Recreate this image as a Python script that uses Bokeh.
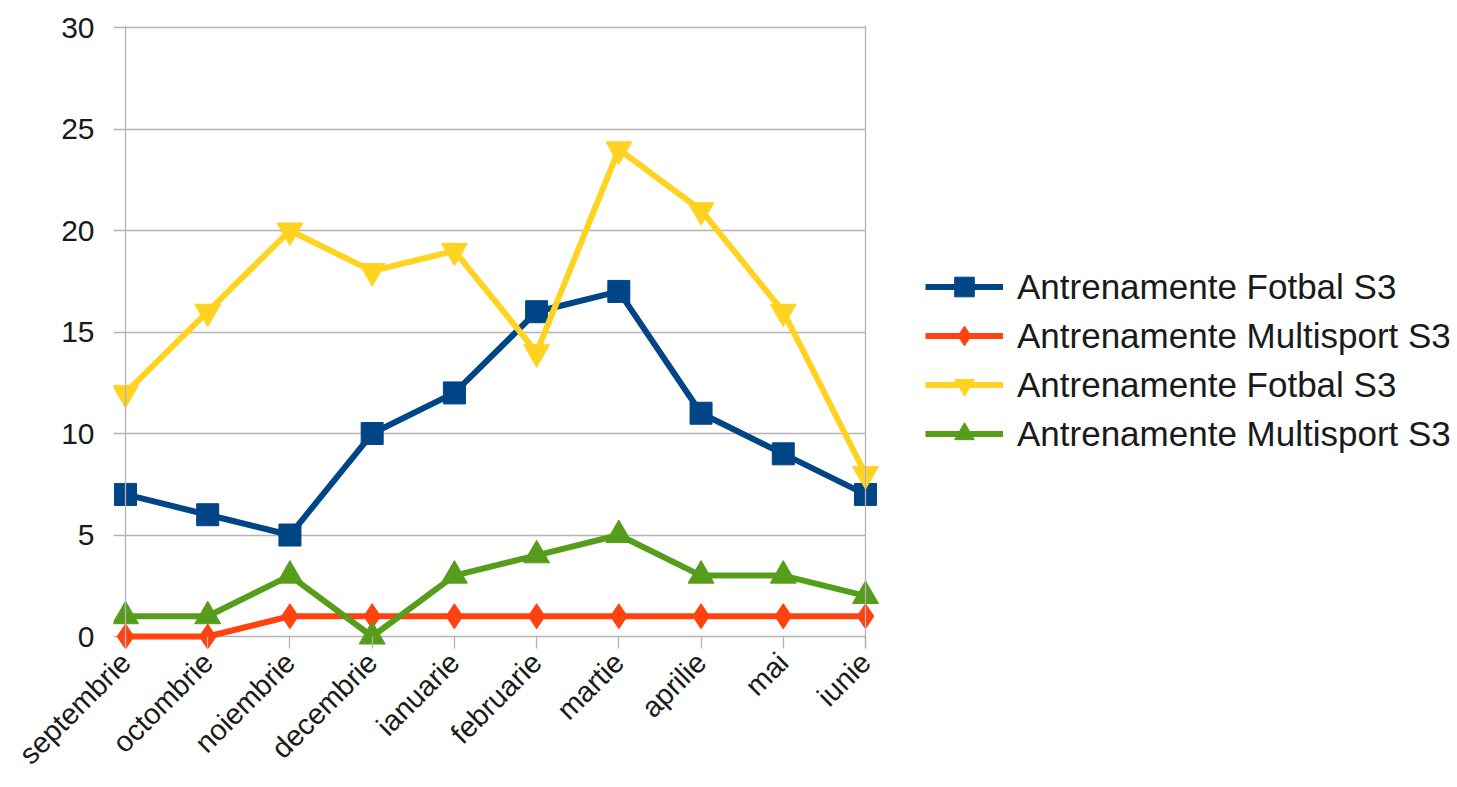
import math
from bokeh.plotting import figure
from bokeh.models import Range1d, FixedTicker, Legend, LegendItem, Span
from bokeh.embed import file_html
from bokeh.resources import INLINE

months = ["septembrie", "octombrie", "noiembrie", "decembrie", "ianuarie",
          "februarie", "martie", "aprilie", "mai", "iunie"]
fotbal_1 = [7, 6, 5, 10, 12, 16, 17, 11, 9, 7]
multisport_1 = [0, 0, 1, 1, 1, 1, 1, 1, 1, 1]
fotbal_2 = [12, 16, 20, 18, 19, 14, 24, 21, 16, 8]
multisport_2 = [1, 1, 3, 0, 3, 4, 5, 3, 3, 2]
series_names = ["Antrenamente Fotbal S3", "Antrenamente Multisport S3",
                "Antrenamente Fotbal S3", "Antrenamente Multisport S3"]
y_ticks = [0, 5, 10, 15, 20, 25, 30]

series = [fotbal_1, multisport_1, fotbal_2, multisport_2]
colors = ["#004586", "#ff420e", "#ffd320", "#579d1c"]
markers = ["square", "diamond", "inverted_triangle", "triangle"]
msizes = [22, 25, 26, 26]

FONT = "Liberation Sans"
TXT = "#1a1a1a"
GRID = "#b3b3b3"

x = list(range(len(months)))
x_pad = 0.146
x_end = 16.2          # frame continues to the right to hold the legend
y_pad_bottom = 0.59
y_pad_top = 0.1

p = figure(width=1457, height=787, output_backend="svg", toolbar_location=None,
           x_range=Range1d(-x_pad, x_end),
           y_range=Range1d(-y_pad_bottom, max(y_ticks) + y_pad_top),
           min_border_left=113, min_border_top=25, min_border_right=0,
           min_border_bottom=139)
p.outline_line_color = None
p.background_fill_color = "white"
p.border_fill_color = "white"

p.xgrid.visible = False
p.ygrid.ticker = FixedTicker(ticks=y_ticks)
p.ygrid.grid_line_color = GRID
p.ygrid.grid_line_width = 1.3
p.ygrid.cross_bounds = (-x_pad, x[-1])

for loc in (x[0], x[-1]):
    p.add_layout(Span(location=loc, dimension="height", line_color=GRID,
                      line_width=1.3))

# y axis
p.yaxis.ticker = FixedTicker(ticks=y_ticks)
p.yaxis.axis_line_color = None
p.yaxis.major_tick_line_color = None
p.yaxis.minor_tick_line_color = None
p.yaxis.major_label_standoff = 13
p.yaxis.major_label_text_font = FONT
p.yaxis.major_label_text_font_size = "30px"
p.yaxis.major_label_text_color = TXT

# x axis
p.xaxis.ticker = FixedTicker(ticks=x)
p.xaxis.major_label_overrides = {i: m for i, m in enumerate(months)}
p.xaxis.axis_line_color = None
p.xaxis.major_tick_in = 12
p.xaxis.major_tick_out = 0
p.xaxis.major_tick_line_color = GRID
p.xaxis.major_tick_line_width = 1.3
p.xaxis.minor_tick_line_color = None
p.xaxis.major_label_orientation = math.pi / 4
p.xaxis.major_label_standoff = 9
p.xaxis.major_label_text_font = FONT
p.xaxis.major_label_text_font_size = "29px"
p.xaxis.major_label_text_color = TXT

items = []
for name, vals, c, m, s in zip(series_names, series, colors, markers, msizes):
    ln = p.line(x, vals, line_color=c, line_width=6)
    sc = p.scatter(x, vals, marker=m, size=s, fill_color=c, line_color=c)
    items.append(LegendItem(label=name, renderers=[ln, sc]))

legend = Legend(items=items, location=(812, 190))
legend.border_line_color = None
legend.background_fill_color = None
legend.background_fill_alpha = 0
legend.padding = 0
legend.margin = 0
legend.glyph_width = 78
legend.glyph_height = 49
legend.label_height = 49
legend.spacing = 0
legend.label_standoff = 14
legend.label_text_font = FONT
legend.label_text_font_size = "35px"
legend.label_text_color = TXT
p.add_layout(legend, "center")

open("out.html", "w").write(file_html(p, INLINE))
